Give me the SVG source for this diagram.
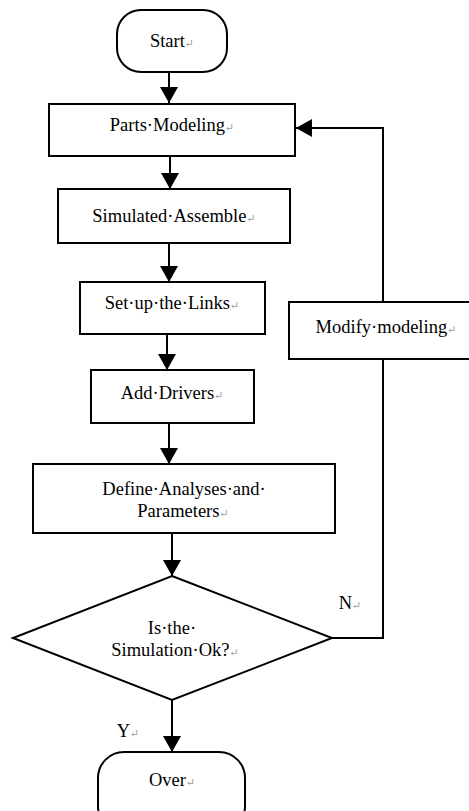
<svg xmlns="http://www.w3.org/2000/svg" width="469" height="811" viewBox="0 0 469 811">
<defs>
<style>
.box{fill:#fff;stroke:#000;stroke-width:2}
.ln{fill:none;stroke:#000;stroke-width:2}
.t{font-family:"Liberation Serif","DejaVu Serif",serif;font-size:18.5px;fill:#000;text-anchor:middle}
.r{fill:#999;font-size:11px}
</style>
<marker id="ah" viewBox="0 0 16 18" refX="16" refY="9" markerWidth="16" markerHeight="18" markerUnits="userSpaceOnUse" orient="auto">
<path d="M0,0 L16,9 L0,18 Z" fill="#000"/>
</marker>
</defs>
<g id="connectors">
<line class="ln" x1="169" y1="72" x2="169" y2="103" marker-end="url(#ah)"/>
<line class="ln" x1="170" y1="156" x2="170" y2="189" marker-end="url(#ah)"/>
<line class="ln" x1="169" y1="243" x2="169" y2="282" marker-end="url(#ah)"/>
<line class="ln" x1="167" y1="334" x2="167" y2="370" marker-end="url(#ah)"/>
<line class="ln" x1="169" y1="423" x2="169" y2="464" marker-end="url(#ah)"/>
<line class="ln" x1="172" y1="533" x2="172" y2="576" marker-end="url(#ah)"/>
<line class="ln" x1="172" y1="700" x2="172" y2="752" marker-end="url(#ah)"/>
<polyline class="ln" points="332,638 383,638 383,359"/>
<polyline class="ln" points="383,302 383,128 296,128" marker-end="url(#ah)"/>
<text class="t" x="350" y="609">N<tspan class="r">↵</tspan></text>
<text class="t" x="128" y="737">Y<tspan class="r">↵</tspan></text>
</g>
<g id="start">
<rect class="box" x="117" y="10" width="110" height="62" rx="24" ry="24"/>
<text class="t" x="172" y="47">Start<tspan class="r">↵</tspan></text>
</g>
<g id="parts">
<rect class="box" x="49" y="104" width="246" height="52"/>
<text class="t" x="172" y="131">Parts·Modeling<tspan class="r">↵</tspan></text>
</g>
<g id="simulated">
<rect class="box" x="58" y="189" width="232" height="54"/>
<text class="t" x="174" y="222">Simulated·Assemble<tspan class="r">↵</tspan></text>
</g>
<g id="links">
<rect class="box" x="80" y="282" width="185" height="52"/>
<text class="t" x="172" y="309">Set·up·the·Links<tspan class="r">↵</tspan></text>
</g>
<g id="drivers">
<rect class="box" x="91" y="370" width="163" height="53"/>
<text class="t" x="172" y="399">Add·Drivers<tspan class="r">↵</tspan></text>
</g>
<g id="define">
<rect class="box" x="33" y="464" width="302" height="69"/>
<text class="t" x="184" y="495">Define·Analyses·and·</text>
<text class="t" x="183" y="517">Parameters<tspan class="r">↵</tspan></text>
</g>
<g id="decision">
<polygon class="box" points="172,576 332,638 172,700 13,638"/>
<text class="t" x="172" y="634">Is·the·</text>
<text class="t" x="175" y="656">Simulation·Ok?<tspan class="r">↵</tspan></text>
</g>
<g id="modify">
<rect class="box" x="289" y="302" width="190" height="57"/>
<text class="t" x="386" y="333">Modify·modeling<tspan class="r">↵</tspan></text>
</g>
<g id="over">
<rect class="box" x="98" y="752" width="147" height="80" rx="26" ry="26"/>
<text class="t" x="172" y="786">Over<tspan class="r">↵</tspan></text>
</g>
</svg>
